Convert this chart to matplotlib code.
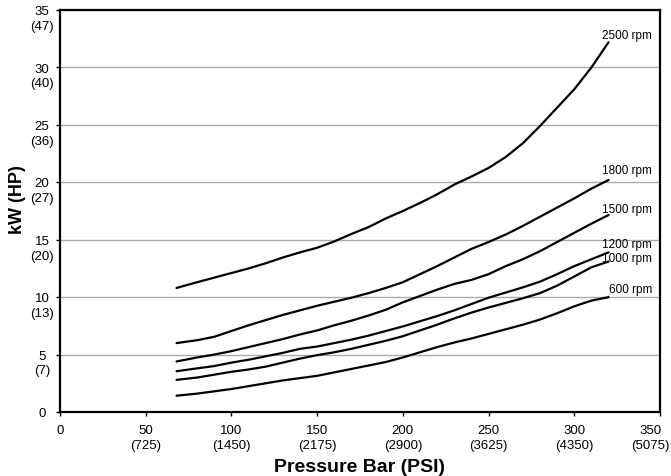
import matplotlib
matplotlib.use("Agg")
import matplotlib.pyplot as plt
import matplotlib.transforms as mtransforms

plt.rcParams['font.family'] = ['Liberation Sans', 'DejaVu Sans']

pressure = [68, 80, 90, 100, 110, 120, 130, 140, 150, 160, 170, 180, 190, 200,
            210, 220, 230, 240, 250, 260, 270, 280, 290, 300, 310, 320]
kw_2500 = [10.8, 11.3, 11.7, 12.1, 12.5, 12.95, 13.45, 13.9, 14.3, 14.85, 15.5, 16.1, 16.85, 17.5,
           18.2, 18.95, 19.8, 20.5, 21.25, 22.2, 23.4, 24.9, 26.5, 28.1, 30.0, 32.2]
kw_1800 = [6.0, 6.25, 6.55, 7.05, 7.55, 8.0, 8.45, 8.85, 9.25, 9.6, 9.95, 10.35, 10.8, 11.3,
           12.0, 12.7, 13.45, 14.2, 14.8, 15.45, 16.2, 17.0, 17.8, 18.6, 19.45, 20.2]
kw_1500 = [4.4, 4.75, 5.0, 5.3, 5.65, 6.0, 6.35, 6.75, 7.1, 7.55, 7.95, 8.4, 8.9, 9.55,
           10.1, 10.65, 11.15, 11.5, 12.0, 12.7, 13.3, 14.0, 14.8, 15.6, 16.4, 17.15]
kw_1200 = [3.55, 3.8, 4.0, 4.3, 4.55, 4.85, 5.15, 5.5, 5.7, 6.0, 6.3, 6.65, 7.05, 7.45,
           7.9, 8.35, 8.85, 9.4, 9.95, 10.4, 10.85, 11.35, 12.0, 12.7, 13.3, 13.9]
kw_1000 = [2.8, 3.0, 3.25, 3.5, 3.7, 3.95, 4.3, 4.65, 4.95, 5.2, 5.5, 5.85, 6.2, 6.6,
           7.1, 7.6, 8.15, 8.65, 9.1, 9.5, 9.9, 10.35, 11.0, 11.8, 12.6, 13.1]
kw_600 = [1.42, 1.6, 1.8, 2.0, 2.25, 2.5, 2.75, 2.95, 3.15, 3.45, 3.75, 4.05, 4.35, 4.75,
          5.2, 5.65, 6.05, 6.4, 6.8, 7.2, 7.6, 8.05, 8.6, 9.2, 9.7, 10.0]

series_labels = ["2500 rpm", "1800 rpm", "1500 rpm", "1200 rpm", "1000 rpm", "600 rpm"]
series = [kw_2500, kw_1800, kw_1500, kw_1200, kw_1000, kw_600]
label_offsets = [(-5, 5), (-5, 7), (-5, 4), (-5, 6), (-5, 2.5), (0, 6)]

x_ticks = [0, 50, 100, 150, 200, 250, 300, 350]
x_ticklabels = ["0", "50\n(725)", "100\n(1450)", "150\n(2175)", "200\n(2900)",
                "250\n(3625)", "300\n(4350)", "350\n(5075)"]
y_ticks = [0, 5, 10, 15, 20, 25, 30, 35]
y_ticklabels = ["0", "5\n(7)", "10\n(13)", "15\n(20)", "20\n(27)", "25\n(36)",
                "30\n(40)", "35\n(47)"]

fig = plt.figure(figsize=(6.71, 4.77), dpi=100)
ax = fig.add_axes([60/671, 1-413/477, 600/671, 402/477])

for vals, lab, off in zip(series, series_labels, label_offsets):
    ax.plot(pressure, vals, color='black', lw=1.6, solid_capstyle='round',
            solid_joinstyle='round', zorder=3)
    ax.annotate(lab, xy=(pressure[-1], vals[-1]), xytext=off, textcoords='offset points',
                ha='left', va='center', fontsize=8.5)

ax.set_xlim(0, 350)
ax.set_ylim(0, 35)
ax.set_xticks(x_ticks)
ax.set_xticklabels(x_ticklabels, fontsize=9.5, linespacing=1.3)
ax.set_yticks(y_ticks)
ax.set_yticklabels(y_ticklabels, fontsize=9.5, linespacing=1.3)
ax.yaxis.grid(True, color='#aaaaaa', lw=1.0)
ax.set_axisbelow(True)
ax.tick_params(axis='both', direction='out', length=3, width=1, colors='black')
ax.tick_params(axis='x', pad=5.5)
ax.tick_params(axis='y', pad=10)

shift = mtransforms.ScaledTranslation(0, 3.5/72, fig.dpi_scale_trans)
for t in ax.get_yticklabels():
    t.set_horizontalalignment('center')
    t.set_multialignment('center')
    t.set_verticalalignment('top')
    t.set_transform(t.get_transform() + shift)
xtl = ax.get_xticklabels()
for t in xtl:
    t.set_multialignment('center')
last_shift = mtransforms.ScaledTranslation(-7/72, 0, fig.dpi_scale_trans)
xtl[-1].set_transform(xtl[-1].get_transform() + last_shift)

for s in ax.spines.values():
    s.set_linewidth(1.6)
    s.set_color('black')

ax.set_xlabel("Pressure Bar (PSI)", fontsize=14, fontweight='bold')
ax.set_ylabel("kW (HP)", fontsize=13, fontweight='bold')
ax.xaxis.set_label_coords(0.5, -0.115)
ax.yaxis.set_label_coords(-0.07, 0.53)
ax.yaxis.label.set_verticalalignment('center')

fig.savefig("out.png", dpi=100)
